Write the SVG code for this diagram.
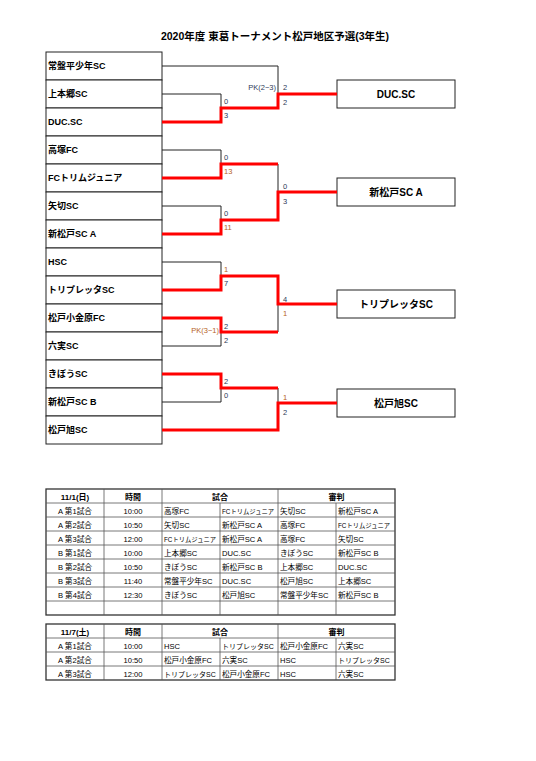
<svg xmlns="http://www.w3.org/2000/svg" width="536" height="761" viewBox="0 0 536 761">
<style>
text{font-family:"Liberation Sans","Noto Sans CJK JP",sans-serif;fill:#000}
.title{font-size:10.5px;font-weight:bold}
.team{font-size:9px;font-weight:bold}
.win{font-size:10px;font-weight:bold}
.sc{font-size:7.5px}
.d{fill:#2d3a57}
.b{fill:#b5621e}
.box{fill:#fff;stroke:#222;stroke-width:1}
.blk{fill:none;stroke:#222;stroke-width:1}
.red{fill:none;stroke:#ff0000;stroke-width:3}
.tb{font-size:7.6px}
.sm{font-size:6.3px}
.md{font-size:7px}
.th{font-size:8px;font-weight:bold}
.c{text-anchor:middle}
.grid{stroke:#555;stroke-width:0.8;fill:none}
.outer{stroke:#333;stroke-width:1.3;fill:none}
</style>
<rect width="536" height="761" fill="#fff"/>
<text class="title c" x="275" y="40">2020年度 東葛トーナメント松戸地区予選(3年生)</text>

<g id="teams">
<g id="t1"><rect class="box" x="46" y="52" width="116" height="28"/><text class="team" x="48" y="69">常盤平少年SC</text></g>
<g id="t2"><rect class="box" x="46" y="80" width="116" height="28"/><text class="team" x="48" y="97">上本郷SC</text></g>
<g id="t3"><rect class="box" x="46" y="108" width="116" height="28"/><text class="team" x="48" y="125">DUC.SC</text></g>
<g id="t4"><rect class="box" x="46" y="136" width="116" height="28"/><text class="team" x="48" y="153">高塚FC</text></g>
<g id="t5"><rect class="box" x="46" y="164" width="116" height="28"/><text class="team" x="48" y="181">FCトリムジュニア</text></g>
<g id="t6"><rect class="box" x="46" y="192" width="116" height="28"/><text class="team" x="48" y="209">矢切SC</text></g>
<g id="t7"><rect class="box" x="46" y="220" width="116" height="28"/><text class="team" x="48" y="237">新松戸SC A</text></g>
<g id="t8"><rect class="box" x="46" y="248" width="116" height="28"/><text class="team" x="48" y="265">HSC</text></g>
<g id="t9"><rect class="box" x="46" y="276" width="116" height="28"/><text class="team" x="48" y="293">トリプレッタSC</text></g>
<g id="t10"><rect class="box" x="46" y="304" width="116" height="28"/><text class="team" x="48" y="321">松戸小金原FC</text></g>
<g id="t11"><rect class="box" x="46" y="332" width="116" height="28"/><text class="team" x="48" y="349">六実SC</text></g>
<g id="t12"><rect class="box" x="46" y="360" width="116" height="28"/><text class="team" x="48" y="377">きぼうSC</text></g>
<g id="t13"><rect class="box" x="46" y="388" width="116" height="28"/><text class="team" x="48" y="405">新松戸SC B</text></g>
<g id="t14"><rect class="box" x="46" y="416" width="116" height="28"/><text class="team" x="48" y="433">松戸旭SC</text></g>
</g>

<g id="winners">
<g id="w1"><rect class="box" x="337" y="80" width="118" height="28"/><text class="win c" x="396" y="97.5">DUC.SC</text></g>
<g id="w2"><rect class="box" x="337" y="178" width="118" height="28"/><text class="win c" x="396" y="195.5">新松戸SC A</text></g>
<g id="w3"><rect class="box" x="337" y="290" width="118" height="28"/><text class="win c" x="396" y="307.5">トリプレッタSC</text></g>
<g id="w4"><rect class="box" x="337" y="389" width="118" height="28"/><text class="win c" x="396" y="406.5">松戸旭SC</text></g>
</g>

<g id="connectors">
<path class="blk" d="M162,66H278V108"/>
<path class="blk" d="M162,94H221V122"/>
<path class="blk" d="M162,150H221V178"/>
<path class="blk" d="M278,164V220"/>
<path class="blk" d="M162,206H221V234"/>
<path class="blk" d="M162,262H221V290"/>
<path class="blk" d="M278,276V332"/>
<path class="blk" d="M162,346H221V318"/>
<path class="blk" d="M162,402H221V374"/>
<path class="blk" d="M278,388V430"/>
<path class="red" d="M162,122H221V108H278V94H337"/>
<path class="red" d="M162,178H221V164H278"/>
<path class="red" d="M162,234H221V220H278V192H337"/>
<path class="red" d="M162,290H221V276H278V304H337"/>
<path class="red" d="M162,318H221V332H278"/>
<path class="red" d="M162,374H221V388H278"/>
<path class="red" d="M162,430H278V403H337"/>
</g>

<g id="scores">
<text class="sc d" x="224" y="104">0</text><text class="sc d" x="224" y="118">3</text>
<text class="sc d" x="224" y="160">0</text><text class="sc b" x="224" y="174">13</text>
<text class="sc d" x="224" y="216">0</text><text class="sc b" x="224" y="230">11</text>
<text class="sc b" x="224" y="272">1</text><text class="sc d" x="224" y="286">7</text>
<text class="sc d" x="224" y="329">2</text><text class="sc d" x="224" y="343">2</text>
<text class="sc b" x="219" y="333" text-anchor="end">PK(3−1)</text>
<text class="sc d" x="224" y="384">2</text><text class="sc d" x="224" y="398">0</text>
<text class="sc d" x="283" y="90">2</text><text class="sc d" x="283" y="105">2</text>
<text class="sc d" x="276" y="90" text-anchor="end">PK(2−3)</text>
<text class="sc d" x="283" y="189">0</text><text class="sc d" x="283" y="204">3</text>
<text class="sc d" x="283" y="302">4</text><text class="sc b" x="283" y="316">1</text>
<text class="sc b" x="283" y="400">1</text><text class="sc d" x="283" y="415">2</text>
</g>

<g id="table1">
<rect class="outer" x="46" y="489" width="349" height="126"/>
<path class="grid" d="M46,503H395M46,517H395M46,531H395M46,545H395M46,559H395M46,573H395M46,587H395M46,601H395M104,489V615M162,489V615M278,489V615M220,503V615M336,503V615"/>
<text class="th c" x="75" y="499.5">11/1(日)</text>
<text class="th c" x="133" y="499.5">時間</text>
<text class="th c" x="220" y="499.5">試合</text>
<text class="th c" x="336.5" y="499.5">審判</text>
<g class="tb">
<text class="c" x="75" y="513.5">A 第1試合</text><text class="c" x="133" y="513.5">10:00</text><text x="164" y="513.5">高塚FC</text><text class="sm" x="222" y="513.5">FCトリムジュニア</text><text x="280" y="513.5">矢切SC</text><text x="338" y="513.5">新松戸SC A</text>
<text class="c" x="75" y="527.5">A 第2試合</text><text class="c" x="133" y="527.5">10:50</text><text x="164" y="527.5">矢切SC</text><text x="222" y="527.5">新松戸SC A</text><text x="280" y="527.5">高塚FC</text><text class="sm" x="338" y="527.5">FCトリムジュニア</text>
<text class="c" x="75" y="541.5">A 第3試合</text><text class="c" x="133" y="541.5">12:00</text><text class="sm" x="164" y="541.5">FCトリムジュニア</text><text x="222" y="541.5">新松戸SC A</text><text x="280" y="541.5">高塚FC</text><text x="338" y="541.5">矢切SC</text>
<text class="c" x="75" y="555.5">B 第1試合</text><text class="c" x="133" y="555.5">10:00</text><text x="164" y="555.5">上本郷SC</text><text x="222" y="555.5">DUC.SC</text><text x="280" y="555.5">きぼうSC</text><text x="338" y="555.5">新松戸SC B</text>
<text class="c" x="75" y="569.5">B 第2試合</text><text class="c" x="133" y="569.5">10:50</text><text x="164" y="569.5">きぼうSC</text><text x="222" y="569.5">新松戸SC B</text><text x="280" y="569.5">上本郷SC</text><text x="338" y="569.5">DUC.SC</text>
<text class="c" x="75" y="583.5">B 第3試合</text><text class="c" x="133" y="583.5">11:40</text><text x="164" y="583.5">常盤平少年SC</text><text x="222" y="583.5">DUC.SC</text><text x="280" y="583.5">松戸旭SC</text><text x="338" y="583.5">上本郷SC</text>
<text class="c" x="75" y="597.5">B 第4試合</text><text class="c" x="133" y="597.5">12:30</text><text x="164" y="597.5">きぼうSC</text><text x="222" y="597.5">松戸旭SC</text><text x="280" y="597.5">常盤平少年SC</text><text x="338" y="597.5">新松戸SC B</text>
</g>
</g>

<g id="table2">
<rect class="outer" x="46" y="624" width="349" height="56"/>
<path class="grid" d="M46,638H395M46,652H395M46,666H395M104,624V680M162,624V680M278,624V680M220,638V680M336,638V680"/>
<text class="th c" x="75" y="634.5">11/7(土)</text>
<text class="th c" x="133" y="634.5">時間</text>
<text class="th c" x="220" y="634.5">試合</text>
<text class="th c" x="336.5" y="634.5">審判</text>
<g class="tb">
<text class="c" x="75" y="648.5">A 第1試合</text><text class="c" x="133" y="648.5">10:00</text><text x="164" y="648.5">HSC</text><text class="md" x="222" y="648.5">トリプレッタSC</text><text x="280" y="648.5">松戸小金原FC</text><text x="338" y="648.5">六実SC</text>
<text class="c" x="75" y="662.5">A 第2試合</text><text class="c" x="133" y="662.5">10:50</text><text x="164" y="662.5">松戸小金原FC</text><text x="222" y="662.5">六実SC</text><text x="280" y="662.5">HSC</text><text class="md" x="338" y="662.5">トリプレッタSC</text>
<text class="c" x="75" y="676.5">A 第3試合</text><text class="c" x="133" y="676.5">12:00</text><text class="md" x="164" y="676.5">トリプレッタSC</text><text x="222" y="676.5">松戸小金原FC</text><text x="280" y="676.5">HSC</text><text x="338" y="676.5">六実SC</text>
</g>
</g>
</svg>
